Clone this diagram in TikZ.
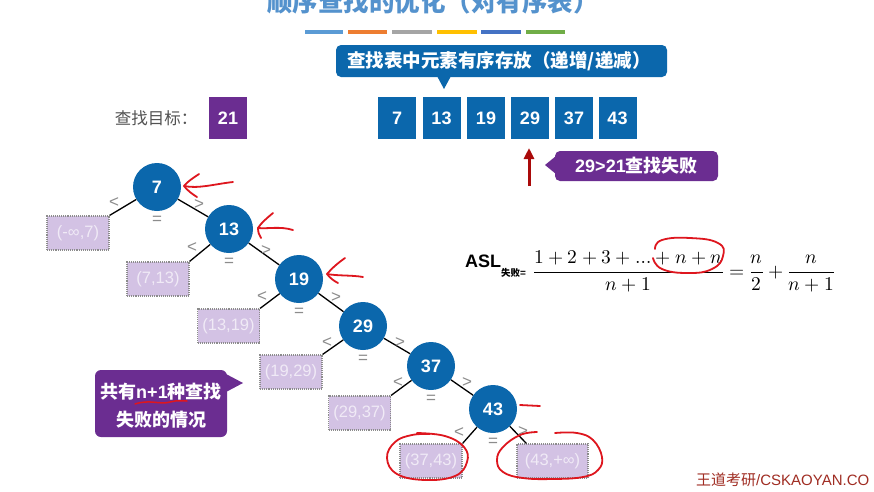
\documentclass[tikz,border=0pt]{standalone}
\usepackage{unicode-math}
\newfontfamily\hv{Liberation Sans}
\newfontfamily\cjk{Noto Sans CJK SC}
\usetikzlibrary{arrows.meta}
\definecolor{nblue}{RGB}{11,103,172}
\definecolor{tblue}{RGB}{84,146,205}
\definecolor{pur}{RGB}{107,45,145}
\definecolor{lav}{RGB}{211,194,228}
\definecolor{leaftxt}{RGB}{240,234,246}
\definecolor{lblgray}{RGB}{140,140,140}
\definecolor{hred}{RGB}{222,22,30}
\definecolor{dred}{RGB}{170,10,10}
\definecolor{wm}{RGB}{160,45,35}
\definecolor{lc1}{RGB}{91,155,213}
\definecolor{lc2}{RGB}{237,125,49}
\definecolor{lc3}{RGB}{165,165,165}
\definecolor{lc4}{RGB}{255,192,0}
\definecolor{lc5}{RGB}{68,114,196}
\definecolor{lc6}{RGB}{112,173,71}
\begin{document}
\begin{tikzpicture}[x=1pt,y=-1pt,
  tnode/.style={circle,fill=nblue,minimum size=48pt,inner sep=0pt,text=white,font=\hv\bfseries\fontsize{18}{20}\selectfont},
  arr/.style={rectangle,fill=nblue,minimum width=38pt,minimum height=42pt,inner sep=0pt,text=white,font=\hv\bfseries\fontsize{18}{20}\selectfont},
  leaf/.style={rectangle,fill=lav,draw=lblgray,densely dotted,line width=1.1pt,minimum width=62pt,minimum height=34pt,inner sep=0pt,text=leaftxt,font=\hv\fontsize{16.5}{18}\selectfont},
  lbl/.style={text=lblgray,inner sep=0pt,font=\hv\fontsize{17}{18}\selectfont},
  edge/.style={draw=black,line width=1.3pt},
  hand/.style={draw=hred,line width=1.8pt,line cap=round,line join=round},
  colline/.style={line width=4pt}
]
\clip (0,0) rectangle (874,491);
\fill[white] (0,0) rectangle (874,491);

% title
\node[anchor=base,inner sep=0pt,text=tblue,font=\cjk\bfseries\fontsize{25.5}{30}\selectfont] (title) at (433,11) {顺序查找的优化（对有序表）};

% colour bars
\draw[colline,lc1] (305,32) -- (343,32);
\draw[colline,lc2] (348,32) -- (387,32);
\draw[colline,lc3] (392,32) -- (432,32);
\draw[colline,lc4] (437,32) -- (477,32);
\draw[colline,lc5] (481,32) -- (521,32);
\draw[colline,lc6] (526,32) -- (565,32);

% blue callout
\fill[nblue,rounded corners=5pt] (336,45) rectangle (667,77);
\fill[nblue] (437,76) -- (451,76) -- (444,89) -- cycle;
\node[text=white,inner sep=0pt,font=\cjk\bfseries\fontsize{18.5}{22}\selectfont] (calltop) at (499,61) {查找表中元素有序存放（递增/递减）};

% target
\node[text=black!68,inner sep=0pt,font=\cjk\fontsize{16.5}{18}\selectfont] (tlabel) at (156,118) {查找目标：};
\node[arr,fill=pur] (target) at (228,118) {21};

% array
\node[arr] (a1) at (397,118) {7};
\node[arr] (a2) at (441.5,118) {13};
\node[arr] (a3) at (486,118) {19};
\node[arr] (a4) at (530,118) {29};
\node[arr] (a5) at (574,118) {37};
\node[arr] (a6) at (617.5,118) {43};

% red arrow
\coordinate (ra1) at (529,186);
\coordinate (ra2) at (529,148);
\draw[dred,line width=3pt,-{Triangle[width=10pt,length=11pt]}] (ra1) -- (ra2);

% purple callout 1
\fill[pur,rounded corners=5pt] (555,151) rectangle (718,181);
\fill[pur] (556,156) -- (545,165) -- (556,174) -- cycle;
\node[text=white,inner sep=0pt] (fail1) at (636.5,166) {{\hv\bfseries\fontsize{18}{20}\selectfont 29>21}{\cjk\bfseries\fontsize{18}{20}\selectfont 查找失败}};

% tree nodes
\node[tnode] (n7) at (157,187) {7};
\node[tnode] (n13) at (229,229) {13};
\node[tnode] (n19) at (299,279) {19};
\node[tnode] (n29) at (363,326) {29};
\node[tnode] (n37) at (431,366) {37};
\node[tnode] (n43) at (493,409) {43};

% leaves
\node[leaf] (l0) at (78,233) {(-∞,7)};
\node[leaf] (l1) at (158,279) {(7,13)};
\node[leaf] (l2) at (228.5,326) {(13,19)};
\node[leaf] (l3) at (291,372) {(19,29)};
\node[leaf] (l4) at (359.5,413) {(29,37)};
\node[leaf] (l5) at (431,461) {(37,43)};
\node[leaf,minimum width=71pt] (l6) at (552.5,461) {(43,+∞)};

% edges
\draw[edge] (n7) -- (l0.north east);
\draw[edge] (n7) -- (n13);
\draw[edge] (n13) -- (l1.north east);
\draw[edge] (n13) -- (n19);
\draw[edge] (n19) -- (l2.north east);
\draw[edge] (n19) -- (n29);
\draw[edge] (n29) -- (l3.north east);
\draw[edge] (n29) -- (n37);
\draw[edge] (n37) -- (l4.north east);
\draw[edge] (n37) -- (n43);
\draw[edge] (n43) -- (l5.north east);
\draw[edge] (n43) -- ([xshift=10pt]l6.north west);

% < = > labels
\foreach \n/\dl/\yl/\dr/\yr in {n7/43/16/42/18, n13/37/19/37/22, n19/37/18/37/19, n29/36/17/37/17, n37/33/17/36/17, n43/34/24/30/23}{
  \node[lbl] at ([shift={(-\dl,\yl)}]\n.center) {<};
  \node[lbl] at ([shift={(0,33)}]\n.center) {=};
  \node[lbl] at ([shift={(\dr,\yr)}]\n.center) {>};
}

% purple callout 2
\fill[pur,rounded corners=6pt] (95,370) rectangle (227,437);
\fill[pur] (226,374) -- (243,383) -- (226,392) -- cycle;
\node[text=white,inner sep=0pt] (fail2a) at (161,392) {{\cjk\bfseries\fontsize{18}{20}\selectfont 共有}{\hv\bfseries\fontsize{18}{20}\selectfont n+1}{\cjk\bfseries\fontsize{18}{20}\selectfont 种查找}};
\node[text=white,inner sep=0pt] (fail2b) at (161,420) {\cjk\bfseries\fontsize{18}{20}\selectfont 失败的情况};

% formula
\node[anchor=base west,inner sep=0pt,font=\hv\bfseries\fontsize{18}{20}\selectfont] (asl) at (465,267) {ASL\raisebox{-9pt}{{\cjk\bfseries\fontsize{9.5}{10}\selectfont 失败}{\hv\bfseries\fontsize{10}{10}\selectfont =}}};
\node[anchor=base west,inner sep=0pt,font=\fontsize{19.5}{24}\selectfont] (fml) at (533,277) {$\displaystyle\frac{1+2+3+\ldots+n+n}{n+1}=\frac{n}{2}+\frac{n}{n+1}$};

% watermark
\node[anchor=west,inner sep=0pt,text=wm] (wmark) at (696,480) {{\cjk\fontsize{15}{17}\selectfont 王道考研}{\hv\fontsize{15}{17}\selectfont /CSKAOYAN.CO}};

% hand-drawn red marks
\draw[hand] (233,182) .. controls (215,184) and (198,189) .. (184,186);
\draw[hand] (199,174) .. controls (193,178) and (187,182) .. (184,186) .. controls (187,190) and (192,194) .. (197,197);
\draw[hand] (293,230) .. controls (280,226) and (268,229) .. (258,228);
\draw[hand] (273,213) .. controls (267,218) and (261,223) .. (258,228) .. controls (258,232) and (259,235) .. (261,238);
\draw[hand] (363,277) .. controls (352,275) and (338,276) .. (327,274);
\draw[hand] (345,258) .. controls (338,263) and (332,268) .. (327,274) .. controls (330,278) and (334,281) .. (338,283);
\draw[hand] (520,405) -- (540,406);
\draw[hand] plot[smooth,tension=0.7] coordinates {(417,433) (445,436) (464,447) (467,462) (455,476) (425,480) (397,474) (387,458) (395,442) (412,435) (430,434)};
\draw[hand] plot[smooth,tension=0.7] coordinates {(537,432) (520,435) (503,447) (497,460) (503,472) (523,478) (553,479) (583,477) (598,470) (602,457) (593,440) (577,433) (555,433)};
\draw[hand] plot[smooth,tension=0.8] coordinates {(655,249) (662,240) (690,238) (718,243) (723,256) (712,269) (688,273) (662,269) (653,258)};
\draw[hand,line width=1.5pt] (135,404) .. controls (150,399) and (160,405) .. (170,402) .. controls (177,400) and (183,401) .. (187,401);
\end{tikzpicture}
\end{document}
